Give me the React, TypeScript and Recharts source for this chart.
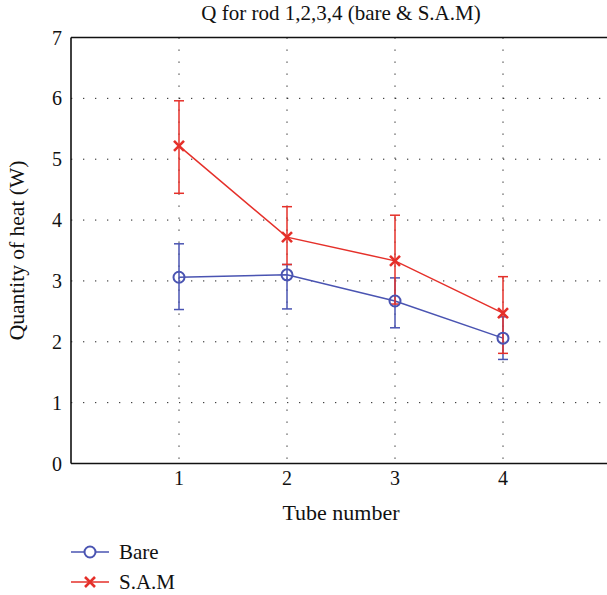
import {
  LineChart, Line, XAxis, YAxis, CartesianGrid, ErrorBar, Legend, ReferenceLine,
} from 'recharts';

const tubes = [1, 2, 3, 4];
const bare = [3.06, 3.10, 2.67, 2.06];
const bareTop = [3.61, 3.27, 3.05, 2.41];
const bareBottom = [2.53, 2.54, 2.23, 1.71];
const sam = [5.22, 3.72, 3.33, 2.47];
const samTop = [5.96, 4.22, 4.08, 3.07];
const samBottom = [4.44, 3.27, 2.62, 1.81];
const xTicks = [1, 2, 3, 4];
const yTicks = [0, 1, 2, 3, 4, 5, 6, 7];

const BLUE = '#4a54b2';
const RED = '#e5302a';
const FONT = 'Liberation Serif, DejaVu Serif, serif';

const data = tubes.map((t, i) => ({
  tube: t,
  bare: bare[i],
  bareErr: [+(bare[i] - bareBottom[i]).toFixed(2), +(bareTop[i] - bare[i]).toFixed(2)],
  sam: sam[i],
  samErr: [+(sam[i] - samBottom[i]).toFixed(2), +(samTop[i] - sam[i]).toFixed(2)],
}));

const Cross = (props: any) => {
  const { cx, cy } = props;
  if (cx == null || cy == null) return null;
  const s = 5;
  return (
    <path
      d={`M${cx - s},${cy - s}L${cx + s},${cy + s}M${cx - s},${cy + s}L${cx + s},${cy - s}`}
      stroke={RED}
      strokeWidth={2.6}
      fill="none"
    />
  );
};

const LegendBox = () => (
  <div style={{ height: 70, fontFamily: FONT, fontSize: 21, color: '#111' }}>
    <div style={{ display: 'flex', alignItems: 'center', height: 30, marginTop: 12 }}>
      <svg width={46} height={20}>
        <line x1={1} y1={10} x2={39} y2={10} stroke={BLUE} strokeWidth={1.5} />
        <circle cx={20} cy={10} r={5.5} fill="#fff" stroke={BLUE} strokeWidth={2} />
      </svg>
      <span style={{ marginLeft: 3 }}>Bare</span>
    </div>
    <div style={{ display: 'flex', alignItems: 'center', height: 30 }}>
      <svg width={46} height={20}>
        <line x1={1} y1={10} x2={39} y2={10} stroke={RED} strokeWidth={1.5} />
        <path d="M15,5L25,15M15,15L25,5" stroke={RED} strokeWidth={2.6} fill="none" />
      </svg>
      <span style={{ marginLeft: 3 }}>S.A.M</span>
    </div>
  </div>
);

export default function App() {
  return (
    <div style={{ position: 'absolute', left: 0, top: 0, width: 607, height: 595, overflow: 'hidden', background: '#fff' }}>
      <div
        style={{
          position: 'absolute', left: 71, width: 540, top: 1, textAlign: 'center',
          fontFamily: FONT, fontSize: 21, color: '#111',
        }}
      >
        Q for rod 1,2,3,4 (bare &amp; S.A.M)
      </div>
      <LineChart
        width={620}
        height={595}
        data={data}
        margin={{ top: 37.5, right: 9, left: 0, bottom: 0 }}
      >
        <CartesianGrid
          stroke="#222"
          strokeDasharray="1.3 10.7"
          horizontalValues={yTicks}
          verticalValues={xTicks}
        />
        <XAxis
          dataKey="tube"
          type="number"
          domain={[0, 5]}
          ticks={xTicks}
          height={61.5}
          tickSize={0}
          tickMargin={7}
          axisLine={{ stroke: '#111', strokeWidth: 1.6 }}
          tick={{ fill: '#111', fontSize: 20, fontFamily: FONT }}
          label={{
            content: ({ viewBox }: any) => (
              <text
                x={viewBox.x + viewBox.width / 2}
                y={viewBox.y + 56}
                textAnchor="middle"
                fill="#111"
                fontSize={22}
                fontFamily={FONT}
              >
                Tube number
              </text>
            ),
          }}
        />
        <YAxis
          type="number"
          domain={[0, 7]}
          ticks={yTicks}
          width={71}
          tickSize={0}
          tickMargin={9}
          axisLine={{ stroke: '#111', strokeWidth: 1.6 }}
          tick={{ fill: '#111', fontSize: 20, fontFamily: FONT }}
          label={{
            content: ({ viewBox }: any) => {
              const cx = viewBox.x + 17;
              const cy = viewBox.y + viewBox.height / 2;
              return (
                <text
                  x={cx}
                  y={cy}
                  transform={`rotate(-90 ${cx} ${cy})`}
                  textAnchor="middle"
                  dominantBaseline="central"
                  fill="#111"
                  fontSize={21.5}
                  fontFamily={FONT}
                >
                  Quantity of heat (W)
                </text>
              );
            },
          }}
        />
        <ReferenceLine y={7} stroke="#111" strokeWidth={1.6} />
        <Legend
          verticalAlign="bottom"
          align="left"
          content={<LegendBox />}
          wrapperStyle={{ left: 70, bottom: 0, height: 70 }}
        />
        <Line
          dataKey="bare"
          name="Bare"
          stroke={BLUE}
          strokeWidth={1.5}
          dot={{ r: 5.5, fill: 'none', stroke: BLUE, strokeWidth: 2 }}
          activeDot={false}
          isAnimationActive={false}
        >
          <ErrorBar dataKey="bareErr" direction="y" width={5} stroke={BLUE} strokeWidth={1.5} isAnimationActive={false} />
        </Line>
        <Line
          dataKey="sam"
          name="S.A.M"
          stroke={RED}
          strokeWidth={1.5}
          dot={<Cross />}
          activeDot={false}
          isAnimationActive={false}
        >
          <ErrorBar dataKey="samErr" direction="y" width={5} stroke={RED} strokeWidth={1.5} isAnimationActive={false} />
        </Line>
      </LineChart>
    </div>
  );
}
